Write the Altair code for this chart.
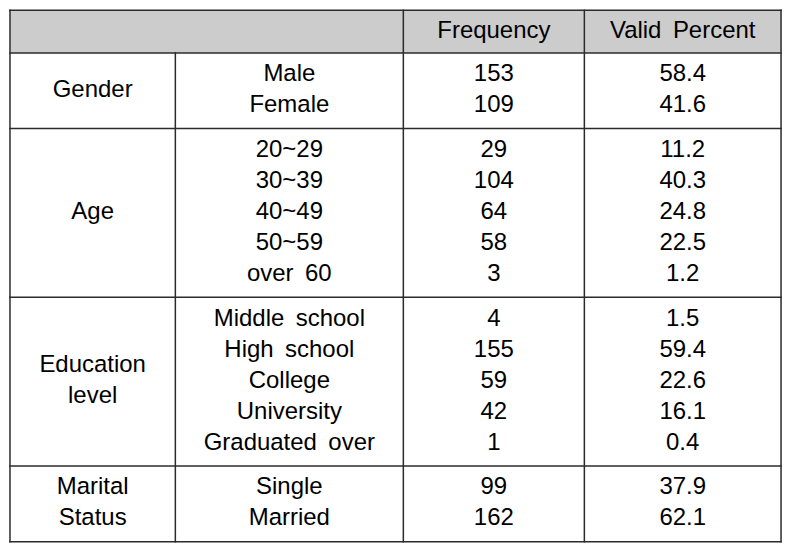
import altair as alt
import pandas as pd

# ---- table content ----
SP = " \u2009"  # the slightly wider word gap used in the source table
headers = ["Frequency", "Valid" + SP + "Percent"]
group_labels = [["Gender"], ["Age"], ["Education", "level"], ["Marital", "Status"]]
items = [
    ["Male", "Female"],
    ["20~29", "30~39", "40~49", "50~59", "over" + SP + "60"],
    ["Middle" + SP + "school", "High" + SP + "school", "College", "University", "Graduated" + SP + "over"],
    ["Single", "Married"],
]
freq = [[153, 109], [29, 104, 64, 58, 3], [4, 155, 59, 42, 1], [99, 162]]
pct = [["58.4", "41.6"], ["11.2", "40.3", "24.8", "22.5", "1.2"],
       ["1.5", "59.4", "22.6", "16.1", "0.4"], ["37.9", "62.1"]]

# ---- layout (reference pixel space 791 x 551) ----
col_edges = [1, 170, 403, 588, 789]
col_center = [(col_edges[i] + col_edges[i + 1]) / 2 for i in range(4)]
top, header_bottom = 1, 45
line_h, pad = 32, 7

cells, lines = [], []
y0 = header_bottom
group_edges = [y0]
for g, its in enumerate(items):
    n = len(its)
    gh = line_h * n + 2 * pad
    for i, it in enumerate(its):
        yc = y0 + pad + line_h / 2 + line_h * i
        cells.append({"x": col_center[1], "y": yc, "t": it})
        cells.append({"x": col_center[2], "y": yc, "t": str(freq[g][i])})
        cells.append({"x": col_center[3], "y": yc, "t": pct[g][i]})
    lab = group_labels[g]
    mid = y0 + gh / 2
    for k, s in enumerate(lab):
        cells.append({"x": col_center[0], "y": mid + (k - (len(lab) - 1) / 2) * line_h, "t": s})
    y0 += gh
    group_edges.append(y0)
bottom = y0

for h, c in zip(headers, col_center[2:]):
    cells.append({"x": c, "y": (top + header_bottom) / 2, "t": h})

for yy in [top] + group_edges:
    lines.append({"x": col_edges[0], "x2": col_edges[-1], "y": yy, "y2": yy})
for xx in [col_edges[0], col_edges[2], col_edges[3], col_edges[4]]:
    lines.append({"x": xx, "x2": xx, "y": top, "y2": bottom})
lines.append({"x": col_edges[1], "x2": col_edges[1], "y": header_bottom, "y2": bottom})

xs = alt.Scale(domain=[0, 791], nice=False, zero=False)
ys = alt.Scale(domain=[0, 551], nice=False, zero=False, reverse=True)

hdr = pd.DataFrame([{"x": col_edges[0], "x2": col_edges[-1], "y": top, "y2": header_bottom}])
rect = alt.Chart(hdr).mark_rect(color="#cccccc").encode(
    x=alt.X("x:Q", scale=xs, axis=None), x2="x2:Q",
    y=alt.Y("y:Q", scale=ys, axis=None), y2="y2:Q")

rules = alt.Chart(pd.DataFrame(lines)).mark_rule(color="#2b2b2b", strokeWidth=1.5, strokeCap="square").encode(
    x=alt.X("x:Q", scale=xs, axis=None), x2="x2:Q",
    y=alt.Y("y:Q", scale=ys, axis=None), y2="y2:Q")

txt = alt.Chart(pd.DataFrame(cells)).mark_text(
    font="Liberation Sans", fontSize=24, align="center", baseline="middle", color="black", dy=-1).encode(
    x=alt.X("x:Q", scale=xs, axis=None), y=alt.Y("y:Q", scale=ys, axis=None), text="t:N")

chart = alt.layer(rect, rules, txt).properties(
    width=775, height=535, padding=0, background="white").configure_view(stroke=None)

chart.save("out.html", embed_options={"renderer": "svg", "actions": False})
